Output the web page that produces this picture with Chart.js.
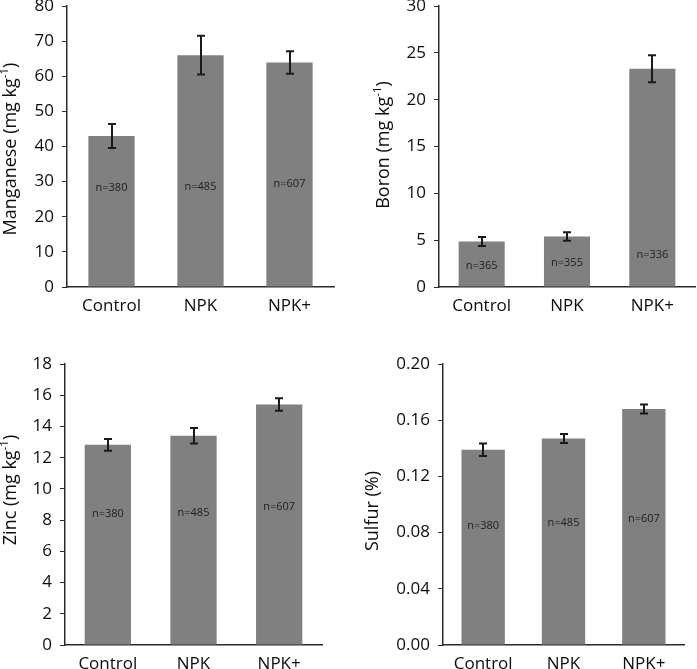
<!DOCTYPE html>
<html><head><meta charset="utf-8">
<script src="https://cdn.jsdelivr.net/npm/chart.js@4.4.0/dist/chart.umd.min.js"></script>
<style>
html,body{margin:0;padding:0;background:#fff;}
body{width:697px;height:669px;position:relative;overflow:hidden;}
.panel{position:absolute;}
canvas{display:block;}
</style></head><body>
<div class="panel" style="left:0px;top:0px"><canvas id="c1" width="348" height="335"></canvas></div>
<div class="panel" style="left:350px;top:0px"><canvas id="c2" width="347" height="335"></canvas></div>
<div class="panel" style="left:0px;top:335px"><canvas id="c3" width="348" height="334"></canvas></div>
<div class="panel" style="left:350px;top:335px"><canvas id="c4" width="347" height="334"></canvas></div>
<script>
// ---------- data ----------
const categories = ['Control', 'NPK', 'NPK+'];

const manganeseValues = [43.0, 66.0, 63.9];
const manganeseErrors = [3.4, 5.5, 3.2];
const manganeseN = ['n=380', 'n=485', 'n=607'];
const manganeseNAt = [28.2, 28.4, 29.4];
const manganeseTickValues = [0, 10, 20, 30, 40, 50, 60, 70, 80];
const manganeseTickLabels = ['0', '10', '20', '30', '40', '50', '60', '70', '80'];

const boronValues = [4.85, 5.4, 23.3];
const boronErrors = [0.48, 0.45, 1.45];
const boronN = ['n=365', 'n=355', 'n=336'];
const boronNAt = [2.27, 2.6, 3.4];
const boronTickValues = [0, 5, 10, 15, 20, 25, 30];
const boronTickLabels = ['0', '5', '10', '15', '20', '25', '30'];

const zincValues = [12.82, 13.4, 15.4];
const zincErrors = [0.38, 0.5, 0.4];
const zincN = ['n=380', 'n=485', 'n=607'];
const zincNAt = [8.4, 8.45, 8.84];
const zincTickValues = [0, 2, 4, 6, 8, 10, 12, 14, 16, 18];
const zincTickLabels = ['0', '2', '4', '6', '8', '10', '12', '14', '16', '18'];

const sulfurValues = [0.139, 0.147, 0.168];
const sulfurErrors = [0.0045, 0.0032, 0.0032];
const sulfurN = ['n=380', 'n=485', 'n=607'];
const sulfurNAt = [0.085, 0.087, 0.090];
const sulfurTickValues = [0, 0.04, 0.08, 0.12, 0.16, 0.20];
const sulfurTickLabels = ['0.00', '0.04', '0.08', '0.12', '0.16', '0.20'];

// ---------- styles / layout ----------
const FONT = "'Open Sans', 'DejaVu Sans', sans-serif";
const TEXT = '#0d0d0d';
const AXIS = '#2b2b2b';
const BAR = '#808080';
const ERR = '#1a1a1a';

function makePanel(id, spec, geom) {
  const canvas = document.getElementById(id);
  const H = canvas.height;

  const errorBars = {
    id: 'errorBars_' + id,
    afterDatasetsDraw(chart) {
      const ctx = chart.ctx, y = chart.scales.y;
      const meta = chart.getDatasetMeta(0);
      ctx.save();
      ctx.strokeStyle = ERR;
      ctx.lineWidth = 2;
      meta.data.forEach((bar, i) => {
        const v = spec.values[i], e = spec.errors[i];
        const yt = y.getPixelForValue(v + e), yb = y.getPixelForValue(v - e);
        const x = Math.round(bar.x) + 0.0;
        ctx.beginPath();
        ctx.moveTo(x, yt); ctx.lineTo(x, yb);
        ctx.moveTo(x - 4, yt); ctx.lineTo(x + 4, yt);
        ctx.moveTo(x - 4, yb); ctx.lineTo(x + 4, yb);
        ctx.stroke();
      });
      // n labels
      ctx.fillStyle = '#1e1e1e';
      ctx.font = '11px ' + FONT;
      ctx.textAlign = 'center';
      ctx.textBaseline = 'middle';
      meta.data.forEach((bar, i) => {
        ctx.fillText(spec.nLabels[i], bar.x, y.getPixelForValue(spec.nAt[i]));
      });
      ctx.restore();
    }
  };

  const yTitle = {
    id: 'yTitle_' + id,
    afterDraw(chart) {
      const ctx = chart.ctx, area = chart.chartArea;
      const cx = area.left - geom.titleOffset;
      const cy = geom.titleCenterY;
      const mainFont = '18px ' + FONT, supFont = '11.5px ' + FONT;
      ctx.save();
      ctx.fillStyle = TEXT;
      ctx.translate(cx, cy);
      ctx.rotate(-Math.PI / 2);
      ctx.textBaseline = 'middle';
      ctx.textAlign = 'left';
      const parts = spec.title;
      let total = 0;
      const widths = parts.map(p => {
        ctx.font = p.sup ? supFont : mainFont;
        const w = ctx.measureText(p.t).width;
        total += w;
        return w;
      });
      let x = -total / 2;
      parts.forEach((p, i) => {
        ctx.font = p.sup ? supFont : mainFont;
        ctx.fillText(p.t, x, p.sup ? -6 : 0);
        x += widths[i];
      });
      ctx.restore();
    }
  };

  return new Chart(canvas, {
    type: 'bar',
    data: {
      labels: categories,
      datasets: [{
        data: spec.values,
        backgroundColor: BAR,
        borderWidth: 0,
        barPercentage: geom.barPct,
        categoryPercentage: 1.0
      }]
    },
    options: {
      responsive: false,
      animation: false,
      events: [],
      layout: { padding: { left: 0, top: geom.top, right: geom.right, bottom: 0 } },
      plugins: { legend: { display: false }, tooltip: { enabled: false }, title: { display: false } },
      scales: {
        x: {
          offset: true,
          grid: { display: false, drawTicks: false },
          border: { display: true, color: AXIS, width: 1.5 },
          ticks: { color: TEXT, font: { family: FONT, size: 17 }, padding: 9, maxRotation: 0 },
          afterFit(s) { s.height = geom.xHeight; s.paddingLeft = 0; s.paddingRight = 0; }
        },
        y: {
          min: spec.tickValues[0],
          max: spec.tickValues[spec.tickValues.length - 1],
          afterBuildTicks(s) { s.ticks = spec.tickValues.map(v => ({ value: v })); },
          grid: { display: true, drawOnChartArea: false, drawTicks: true, tickLength: 5, color: AXIS, lineWidth: 1 },
          border: { display: true, color: AXIS, width: 1.5 },
          ticks: {
            color: TEXT, font: { family: FONT, size: 17 }, padding: 8,
            callback: (v, i) => spec.tickLabels[i]
          },
          afterFit(s) { s.width = geom.yWidth; s.paddingTop = 0; s.paddingBottom = 0; }
        }
      }
    },
    plugins: [errorBars, yTitle]
  });
}

makePanel('c1', {
  values: manganeseValues, errors: manganeseErrors, nLabels: manganeseN, nAt: manganeseNAt,
  tickValues: manganeseTickValues, tickLabels: manganeseTickLabels,
  title: [{ t: 'Manganese (mg kg' }, { t: '-1', sup: true }, { t: ')' }]
}, { top: 6, right: 14, xHeight: 48, yWidth: 67, barPct: 0.52, titleOffset: 56, titleCenterY: 149 });

makePanel('c2', {
  values: boronValues, errors: boronErrors, nLabels: boronN, nAt: boronNAt,
  tickValues: boronTickValues, tickLabels: boronTickLabels,
  title: [{ t: 'Boron (mg kg' }, { t: '-1', sup: true }, { t: ')' }]
}, { top: 6, right: 2, xHeight: 48, yWidth: 89, barPct: 0.54, titleOffset: 55, titleCenterY: 145 });

makePanel('c3', {
  values: zincValues, errors: zincErrors, nLabels: zincN, nAt: zincNAt,
  tickValues: zincTickValues, tickLabels: zincTickLabels,
  title: [{ t: 'Zinc (mg kg' }, { t: '-1', sup: true }, { t: ')' }]
}, { top: 29, right: 26, xHeight: 24, yWidth: 65, barPct: 0.54, titleOffset: 54, titleCenterY: 155 });

makePanel('c4', {
  values: sulfurValues, errors: sulfurErrors, nLabels: sulfurN, nAt: sulfurNAt,
  tickValues: sulfurTickValues, tickLabels: sulfurTickLabels,
  title: [{ t: 'Sulfur (%)' }]
}, { top: 29, right: 13, xHeight: 24, yWidth: 93, barPct: 0.54, titleOffset: 70, titleCenterY: 176 });
</script>
</body></html>
